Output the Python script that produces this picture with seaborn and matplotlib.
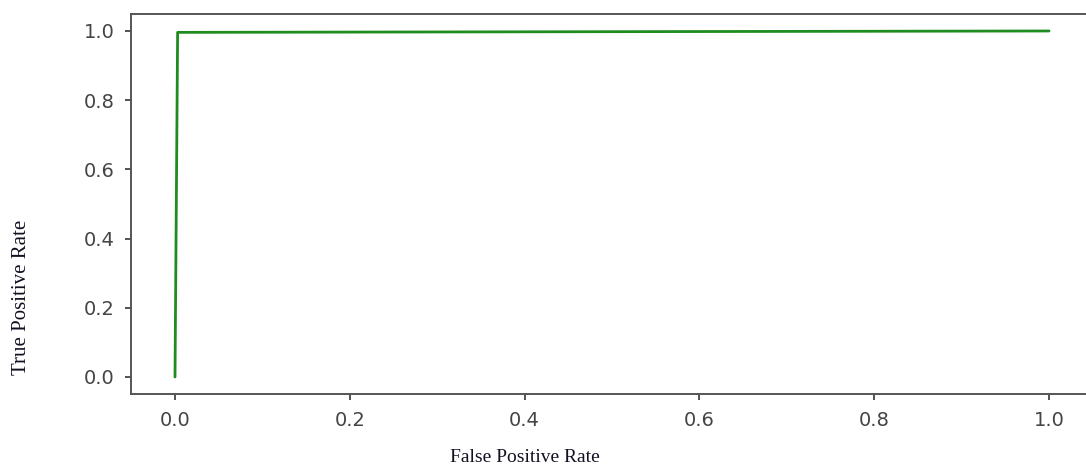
import numpy as np
import matplotlib
matplotlib.use("Agg")
import matplotlib.pyplot as plt
import pandas as pd
import seaborn as sns

# ROC curve points
fpr = [0.0, 0.003, 1.0]
tpr = [0.0, 0.996, 1.0]
ticks = [0.0, 0.2, 0.4, 0.6, 0.8, 1.0]

sns.set_style("ticks")
plt.rcParams['font.family'] = ['DejaVu Sans']

df = pd.DataFrame({"fpr": fpr, "tpr": tpr})

fig = plt.figure(figsize=(10.86, 4.67), dpi=100)
# axes run a little past the right edge, like the cropped original
ax = fig.add_axes([0.1209, 0.1557, 0.8853, 0.8150])

sns.lineplot(data=df, x="fpr", y="tpr", color="#1e8c1e", linewidth=2.0,
             sort=False, estimator=None, ax=ax)

ax.set_xlim(-0.05, 1.05)
ax.set_ylim(-0.05, 1.05)
ax.set_xticks(ticks)
ax.set_yticks(ticks)
ax.set_xticklabels(["%.1f" % t for t in ticks])
ax.set_yticklabels(["%.1f" % t for t in ticks])
ax.tick_params(labelsize=14, colors="#444444", length=4, width=1.3, pad=8)
for lab in ax.get_xticklabels() + ax.get_yticklabels():
    lab.set_fontweight("medium")
for s in ax.spines.values():
    s.set_color("#555555")
    s.set_linewidth(1.4)
ax.set_xlabel("")
ax.set_ylabel("")

# axis titles in a serif face, placed where the original has them
fig.text(525 / 1086, 1 - 458 / 467, "False Positive Rate", family="Liberation Serif",
         fontsize=14, color="#111122", ha="center", va="center")
fig.text(22 / 1086, 1 - 297 / 467, "True Positive Rate", family="Liberation Serif",
         fontsize=15, color="#111122", ha="center", va="center", rotation=90)

plt.savefig("out.png", dpi=100)
plt.close()
